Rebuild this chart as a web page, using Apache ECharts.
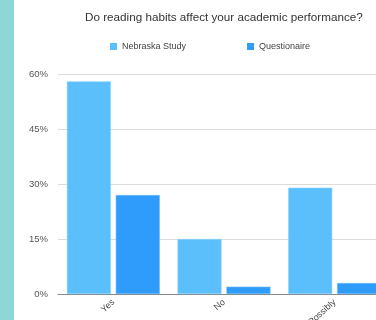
<!DOCTYPE html>
<html>
<head>
<meta charset="utf-8">
<script src="https://cdn.jsdelivr.net/npm/echarts@6/dist/echarts.min.js"></script>
<style>
  html, body { margin: 0; padding: 0; background: #fff; overflow: hidden; }
  .wrap { position: relative; width: 376px; height: 320px; overflow: hidden; }
  .strip { position: absolute; left: 0; top: 0; width: 14px; height: 320px; background: #8dd7d9; }
  .main { position: absolute; left: 0; top: 0; width: 390px; height: 320px; }
</style>
</head>
<body>
<div class="wrap">
  <div class="main" id="main"></div>
  <div class="strip"></div>
</div>
<script>
  // data
  const categories = ['Yes', 'No', 'Possibly']
  const nebraska = [58, 15, 29]
  const questionaire = [27, 2, 3]
  const yTicks = [0, 15, 30, 45, 60]

  // the original picture is cut on the right, so the chart is wider than the window
  const chart = echarts.init(document.getElementById('main'))
  chart.setOption({
    animation: false,
    title: {
      text: 'Do reading habits affect your academic performance?',
      left: 80,
      top: 7,
      textStyle: {
        color: '#333',
        fontSize: 11.7,
        fontWeight: 'normal',
        fontFamily: 'Liberation Sans'
      }
    },
    legend: {
      top: 37,
      left: 105,
      itemWidth: 7,
      itemHeight: 7,
      itemGap: 61,
      icon: 'rect',
      itemStyle: { borderWidth: 0 },
      textStyle: {
        color: '#444',
        fontSize: 9,
        fontFamily: 'Liberation Sans'
      },
      data: ['Nebraska Study', 'Questionaire']
    },
    color: ['#5bbffc', '#2f9bfa'],
    grid: {
      left: 58,
      right: 0,
      top: 74,
      bottom: 26,
      containLabel: false,
      outerBoundsMode: 'none'
    },
    xAxis: {
      type: 'category',
      data: categories,
      axisLine: { lineStyle: { color: '#888', width: 1 } },
      axisTick: { show: false },
      axisLabel: {
        rotate: 42,
        margin: 7,
        color: '#444',
        fontSize: 9,
        fontFamily: 'Liberation Sans'
      }
    },
    yAxis: {
      type: 'value',
      min: yTicks[0],
      max: yTicks[yTicks.length - 1],
      interval: 15,
      axisLine: { show: false },
      axisTick: { show: false },
      splitLine: { lineStyle: { color: '#dcdcdc' } },
      axisLabel: {
        formatter: '{value}%',
        margin: 10,
        color: '#555',
        fontSize: 9.5,
        fontFamily: 'Liberation Sans'
      }
    },
    series: [{
      name: 'Nebraska Study',
      type: 'bar',
      data: nebraska,
      barGap: '11%',
      barCategoryGap: '16%',
      itemStyle: { borderColor: '#8fd3fd', borderWidth: 0.6 }
    }, {
      name: 'Questionaire',
      type: 'bar',
      data: questionaire,
      itemStyle: { borderColor: '#6ab8fb', borderWidth: 0.6 }
    }]
  })
</script>
</body>
</html>
